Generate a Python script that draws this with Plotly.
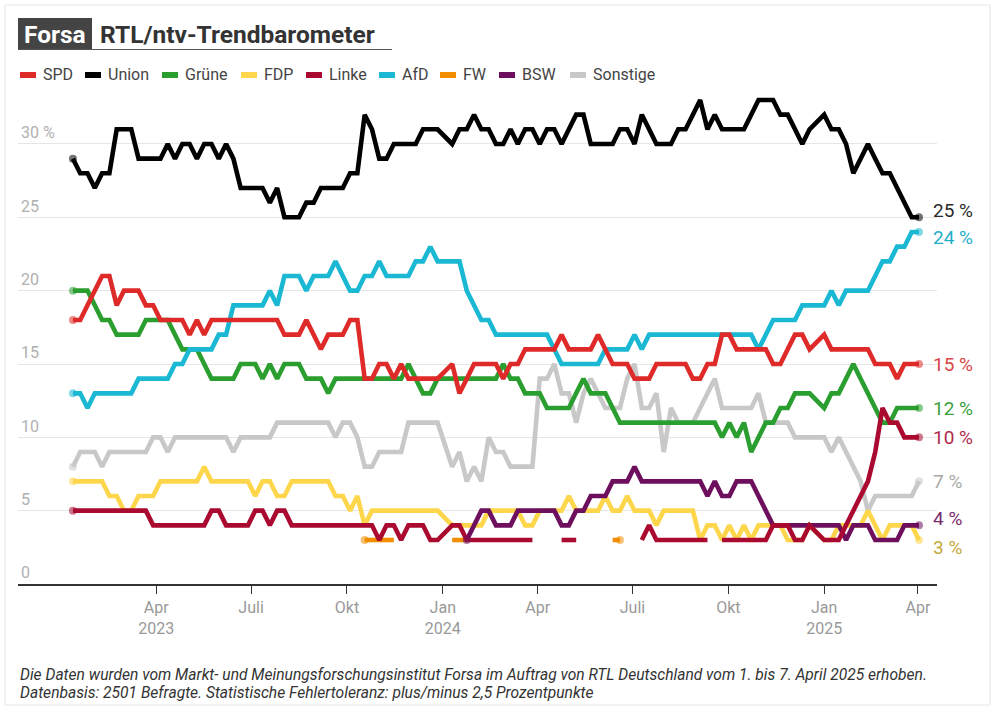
import pandas as pd
import plotly.graph_objects as go

# ---------------- data (weekly Forsa values) ----------------
N_WEEKS = 117
week_dates = pd.date_range("2023-01-11", periods=N_WEEKS, freq="7D")
_ = None

union = [29,28,28,27,28,28,31,31,31,29, 29,29,29,30,29,30,30,29,30,30,
         29,30,29,27,27,27,27,26,27,25, 25,25,26,26,27,27,27,27,28,28,
         32,31,29,29,30,30,30,30,31,31, 31,_,30,31,31,32,31,31,30,30,
         31,30,31,31,30,31,31,30,31,32, 32,30,30,30,30,31,31,30,32,31,
         30,30,30,31,31,32,33,31,32,31, 31,31,31,32,33,33,33,32,32,31,
         30,31,_,32,31,31,30,28,29,30, 29,28,28,27,26,25,25]
spd = [18,18,19,20,21,21,19,20,20,20, 19,19,18,18,18,18,17,18,17,18,
       18,18,18,18,18,18,18,18,18,17, 17,17,18,17,16,17,17,17,18,18,
       14,14,15,15,14,15,14,14,14,14, 14,_,15,13,14,15,15,15,15,14,
       15,15,16,16,16,16,16,17,16,16, 16,16,17,16,15,15,15,14,14,14,
       15,15,15,15,15,14,14,15,15,17, 17,16,16,16,16,16,15,15,16,17,
       17,16,_,17,16,16,16,16,16,16, 15,15,15,14,15,15,15]
gruene = [20,20,20,19,18,18,17,17,17,17, 18,18,18,18,17,16,16,16,15,14,
          14,14,14,15,15,15,14,15,14,15, 15,15,14,14,14,13,14,14,14,14,
          14,14,14,14,14,14,15,14,13,13, 14,_,14,14,14,14,14,14,14,15,
          14,14,13,13,13,12,12,12,12,13, 14,13,13,13,12,11,11,11,11,11,
          11,11,11,11,11,11,11,11,11,10, 11,10,11,9,10,11,11,12,12,13,
          13,13,_,12,13,13,14,15,14,13, 12,11,11,12,12,12,12]
fdp = [7,7,7,7,7,6,6,5,5,6, 6,6,7,7,7,7,7,7,8,7,
       7,7,7,7,7,6,7,7,6,6, 7,7,7,7,7,7,6,6,5,6,
       4,5,5,5,5,5,5,5,5,5, 5,_,4,4,4,4,4,5,5,5,
       5,5,4,4,5,5,5,5,6,5, 5,5,5,6,5,5,6,5,5,5,
       4,5,5,5,5,5,3,4,4,3, 4,3,4,3,4,4,4,4,3,3,
       3,4,_,3,3,4,4,4,4,5, 4,3,4,4,4,4,3]
linke = [5,5,5,5,5,5,5,5,5,5, 5,4,4,4,4,4,4,4,4,5,
         5,4,4,4,4,5,5,4,5,5, 4,4,4,4,4,4,4,4,4,4,
         4,4,3,4,4,3,4,4,4,3, 3,_,4,4,3,3,3,3,3,3,
         3,3,3,3,_,_,_,3,3,3, _,_,_,_,_,_,_,_,3,4,
         3,3,3,3,3,3,3,3,_,3, 3,3,3,3,3,3,4,4,4,3,
         3,4,_,3,3,3,4,5,6,7, 9,12,11,11,10,10,10]
afd = [13,13,12,13,13,13,13,13,13,14, 14,14,14,14,15,15,16,16,16,16,
       17,17,19,19,19,19,19,20,19,21, 21,21,20,21,21,21,22,21,20,20,
       21,21,22,21,21,21,21,22,22,23, 22,_,22,22,20,19,18,18,17,17,
       17,17,17,17,17,17,16,15,15,15, 15,15,15,16,16,16,16,17,16,17,
       17,17,17,17,17,17,17,17,17,17, 17,17,17,17,16,17,18,18,18,18,
       19,19,_,19,20,19,20,20,20,20, 21,22,22,23,23,24,24]
fw = [_]*40 + [3,3,3,3,3] + [_]*7 + [3,3,3] + [_]*19 + [3,3] + [_]*41
bsw = [_]*54 + [3,4,5,5,4,4,
       4,5,5,5,5,5,5,4,4,5, 5,6,6,6,7,7,7,8,7,7,
       7,7,7,7,7,7,7,6,7,6, 6,7,7,7,6,5,4,4,4,4,
       4,4,_,4,4,4,3,4,4,4, 3,3,3,3,4,4,4]
sonstige = [8,9,9,9,8,9,9,9,9,9, 9,10,10,9,10,10,10,10,10,10,
            10,10,9,10,10,10,10,10,11,11, 11,11,11,11,11,11,10,11,11,10,
            8,8,9,9,9,9,11,11,11,11, 11,_,8,9,7,8,7,10,9,9,
            8,8,8,8,14,14,15,13,13,11, 13,14,13,12,12,12,14,15,12,12,
            13,9,12,11,11,11,12,13,14,12, 12,12,12,12,13,11,11,11,11,10,
            10,10,_,10,9,10,9,8,7,5, 6,6,6,6,6,6,7]

names = ["SPD", "Union", "Grüne", "FDP", "Linke", "AfD", "FW", "BSW", "Sonstige"]
colors = {"SPD": "#df2a2a", "Union": "#000000", "Grüne": "#2b9e30", "FDP": "#fdd64b",
          "Linke": "#aa0a2f", "AfD": "#1bb8d3", "FW": "#f28c00", "BSW": "#6e0f5e",
          "Sonstige": "#c8c8c8"}
values = {"SPD": spd, "Union": union, "Grüne": gruene, "FDP": fdp, "Linke": linke,
          "AfD": afd, "FW": fw, "BSW": bsw, "Sonstige": sonstige}
draw_order = ["Sonstige", "FDP", "FW", "BSW", "Grüne", "AfD", "SPD", "Linke", "Union"]

# end labels
end_labels = ["Union", "AfD", "SPD", "Grüne", "Linke", "Sonstige", "BSW", "FDP"]
label_colors = {"Union": "#2a2a2a", "AfD": "#22aec6", "SPD": "#d94545", "Grüne": "#38a03c",
                "Linke": "#b02a4a", "Sonstige": "#a8a8a8", "BSW": "#7a2a6e", "FDP": "#c4aa3c"}
label_yshift = {"Union": 7, "AfD": -6, "SPD": 0, "Grüne": 0, "Linke": 0,
                "Sonstige": 0, "BSW": 7, "FDP": -7}

y_ticks = [0, 5, 10, 15, 20, 25, 30]
y_ticktext = ["0", "5", "10", "15", "20", "25", "30 %"]
x_ticks = ["2023-04-01", "2023-07-01", "2023-10-01", "2024-01-01", "2024-04-01",
           "2024-07-01", "2024-10-01", "2025-01-01", "2025-04-01"]
x_ticktext = ["Apr<br>2023", "Juli", "Okt", "Jan<br>2024", "Apr", "Juli", "Okt",
              "Jan<br>2025", "Apr"]

# ---------------- drop weeks without a survey ----------------
keep = [u is not None for u in union]
dates = [d for d, k in zip(week_dates, keep) if k]
vals = {n: [v for v, k in zip(values[n], keep) if k] for n in names}

# ---------------- figure ----------------
W, H = 1000, 710
L, R, T, B = 18, 63, 85, 126
PW, PH = W - L - R, H - T - B


def px(x):
    return (x - L) / PW


def py(y):
    return (H - B - y) / PH


fig = go.Figure()
for n in draw_order:
    fig.add_trace(go.Scatter(x=dates, y=vals[n], mode="lines", name=n,
                             line=dict(color=colors[n], width=4.6),
                             connectgaps=False, showlegend=False,
                             hoverinfo="x+y+name"))
# end dots
for n in draw_order:
    idx = [i for i, v in enumerate(vals[n]) if v is not None]
    ends = [idx[0], idx[-1]]
    fig.add_trace(go.Scatter(x=[dates[i] for i in ends], y=[vals[n][i] for i in ends],
                             mode="markers", showlegend=False, hoverinfo="skip",
                             marker=dict(color=colors[n], size=8, opacity=0.55)))

FONT = "Liberation Sans Narrow, Roboto, sans-serif"
ann = []
shapes = []

# end labels
for n in end_labels:
    last = vals[n][-1]
    ann.append(dict(x=dates[-1], y=last, xref="x", yref="y", text=f"{last} %",
                    showarrow=False, xanchor="left", yanchor="middle", xshift=12,
                    yshift=label_yshift[n],
                    font=dict(family=FONT, size=19, color=label_colors[n])))

# title
shapes.append(dict(type="rect", xref="paper", yref="paper", x0=px(18), x1=px(92),
                   y0=py(50), y1=py(18), fillcolor="#444444", line=dict(width=0)))
shapes.append(dict(type="line", xref="paper", yref="paper", x0=px(18), x1=px(392),
                   y0=py(49.5), y1=py(49.5), line=dict(color="#555555", width=1)))
ann.append(dict(x=px(55), y=py(34), xref="paper", yref="paper", text="<b>Forsa</b>",
                showarrow=False, xanchor="center", yanchor="middle",
                font=dict(family="Roboto, sans-serif", size=24.5, color="white")))
ann.append(dict(x=px(98), y=py(34), xref="paper", yref="paper",
                text="<b>RTL/ntv-Trendbarometer</b>", showarrow=False,
                xanchor="left", yanchor="middle",
                font=dict(family="Roboto, sans-serif", size=24.5, color="#333333")))

# legend (custom)
legend_x = {"SPD": 18, "Union": 83, "Grüne": 160, "FDP": 239, "Linke": 304,
            "AfD": 377, "FW": 438, "BSW": 497, "Sonstige": 568}
for n in names:
    sx = legend_x[n]
    shapes.append(dict(type="line", xref="paper", yref="paper", x0=px(sx + 2), x1=px(sx + 18),
                       y0=py(75), y1=py(75), line=dict(color=colors[n], width=6)))
    ann.append(dict(x=px(sx + 23), y=py(75), xref="paper", yref="paper", text=n,
                    showarrow=False, xanchor="left", yanchor="middle",
                    font=dict(family="Roboto, sans-serif", size=16, color="#444444")))

# footer
ann.append(dict(x=px(18), y=py(675), xref="paper", yref="paper",
                text="<i>Die Daten wurden vom Markt- und Meinungsforschungsinstitut Forsa im Auftrag von RTL Deutschland vom 1. bis 7. April 2025 erhoben.</i>",
                showarrow=False, xanchor="left", yanchor="middle",
                font=dict(family=FONT, size=15.6, color="#333333")))
ann.append(dict(x=px(18), y=py(693), xref="paper", yref="paper",
                text="<i>Datenbasis: 2501 Befragte. Statistische Fehlertoleranz: plus/minus 2,5 Prozentpunkte</i>",
                showarrow=False, xanchor="left", yanchor="middle",
                font=dict(family=FONT, size=15.6, color="#333333")))

# card border
shapes.append(dict(type="rect", xref="paper", yref="paper", x0=px(5), x1=px(990),
                   y0=py(705), y1=py(5), line=dict(color="#e6e6e6", width=1),
                   fillcolor="rgba(0,0,0,0)", layer="below"))

fig.update_layout(
    width=W, height=H, margin=dict(l=L, r=R, t=T, b=B),
    paper_bgcolor="white", plot_bgcolor="white",
    annotations=ann, shapes=shapes, showlegend=False,
    xaxis=dict(type="date", range=["2022-11-19 07:00", "2025-04-19 07:00"],
               tickvals=x_ticks, ticktext=x_ticktext, showgrid=False,
               ticks="outside", ticklen=8, tickcolor="#333333", tickwidth=1,
               showline=True, linecolor="#333333", linewidth=2, zeroline=False,
               tickfont=dict(family=FONT, size=16, color="#999999")),
    yaxis=dict(range=[0, PH / 14.667], tickvals=y_ticks, ticktext=y_ticktext,
               ticklabelposition="inside top", showgrid=True, gridcolor="#e6e6e6",
               gridwidth=1, zeroline=False, showline=False, ticks="",
               tickfont=dict(family=FONT, size=16, color="#b0b0b0")),
)

fig.write_html("out.html", config={"displayModeBar": False})

# remove the default page margin so the figure sits at the window origin
with open("out.html", encoding="utf-8") as f:
    page = f.read()
page = page.replace("<head>", "<head><style>html,body{margin:0;padding:0;}</style>", 1)
with open("out.html", "w", encoding="utf-8") as f:
    f.write(page)
